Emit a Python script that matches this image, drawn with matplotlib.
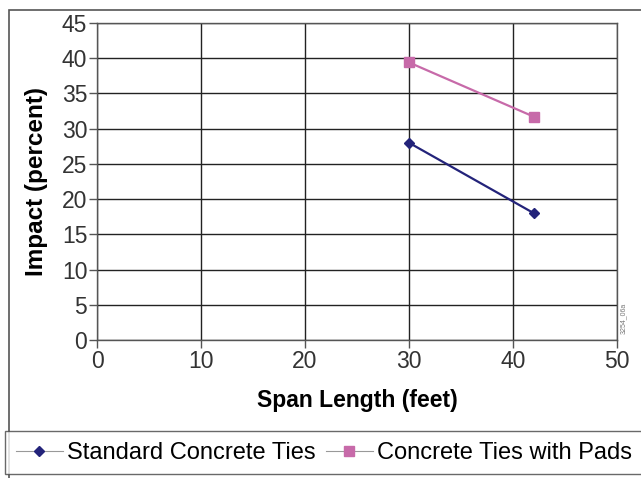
import matplotlib.pyplot as plt
from matplotlib.patches import Rectangle

plt.rcParams['font.family'] = ['Liberation Sans', 'DejaVu Sans']

# data
span = [30, 42]
standard = [28.0, 18.0]
with_pads = [39.4, 31.7]
labels = ['Standard Concrete Ties', 'Concrete Ties with Pads']

fig = plt.figure(figsize=(6.41, 4.78), dpi=100)
ax = fig.add_axes([97 / 641, 138 / 478, 520 / 641, 317 / 478])

# outer frame of the figure
fig.patches.append(Rectangle((9 / 641, -0.01), 1.0, 1 - 10 / 478 + 0.01,
                             transform=fig.transFigure, fill=False,
                             edgecolor='#555555', linewidth=1.2))

l1, = ax.plot(span, standard, color='#23237a', marker='D', markersize=5, linewidth=1.6)
l2, = ax.plot(span, with_pads, color='#c76aa9', marker='s', markersize=7, linewidth=1.6)

ax.set_xlim(0, 50)
ax.set_ylim(0, 45)
ax.set_xticks(range(0, 51, 10))
ax.set_yticks(range(0, 46, 5))
ax.grid(True, color='#222222', linewidth=1.0)
ax.set_axisbelow(True)
for s in ax.spines.values():
    s.set_color('#555555')
    s.set_linewidth(1.0)
ax.tick_params(direction='out', length=6, width=1, color='#555555',
               labelsize=16.5, pad=1, labelcolor='#333333')

ax.set_xlabel('Span Length (feet)', fontsize=16.5, fontweight='bold')
ax.set_ylabel('Impact (percent)', fontsize=17.5, fontweight='bold')
ax.xaxis.set_label_coords(0.5, -60 / 317)
ax.yaxis.set_label_coords(-60 / 520, 0.5)
ax.xaxis.label.set_va('center')
ax.yaxis.label.set_va('center')

fig.text(623 / 641, 1 - 318 / 478, '3254_06a', rotation=90, fontsize=5,
         color='#777777', ha='center', va='center')

leg = fig.legend([l1, l2], labels, loc='lower center', ncol=2,
                 bbox_to_anchor=(324 / 641, 0 / 478), fontsize=17,
                 frameon=True, fancybox=False, handlelength=2.0,
                 handletextpad=0.2, columnspacing=0.4, borderpad=0.45,
                 borderaxespad=0.15)
leg.get_frame().set_edgecolor('#444444')
leg.get_frame().set_linewidth(1.0)
for h in leg.legend_handles:
    h.set_linewidth(0.8)
    h.set_color('#999999')
leg.legend_handles[0].set_markerfacecolor('#23237a')
leg.legend_handles[0].set_markeredgecolor('#23237a')
leg.legend_handles[1].set_markerfacecolor('#c76aa9')
leg.legend_handles[1].set_markeredgecolor('#c76aa9')

fig.savefig('out.png', dpi=100)
